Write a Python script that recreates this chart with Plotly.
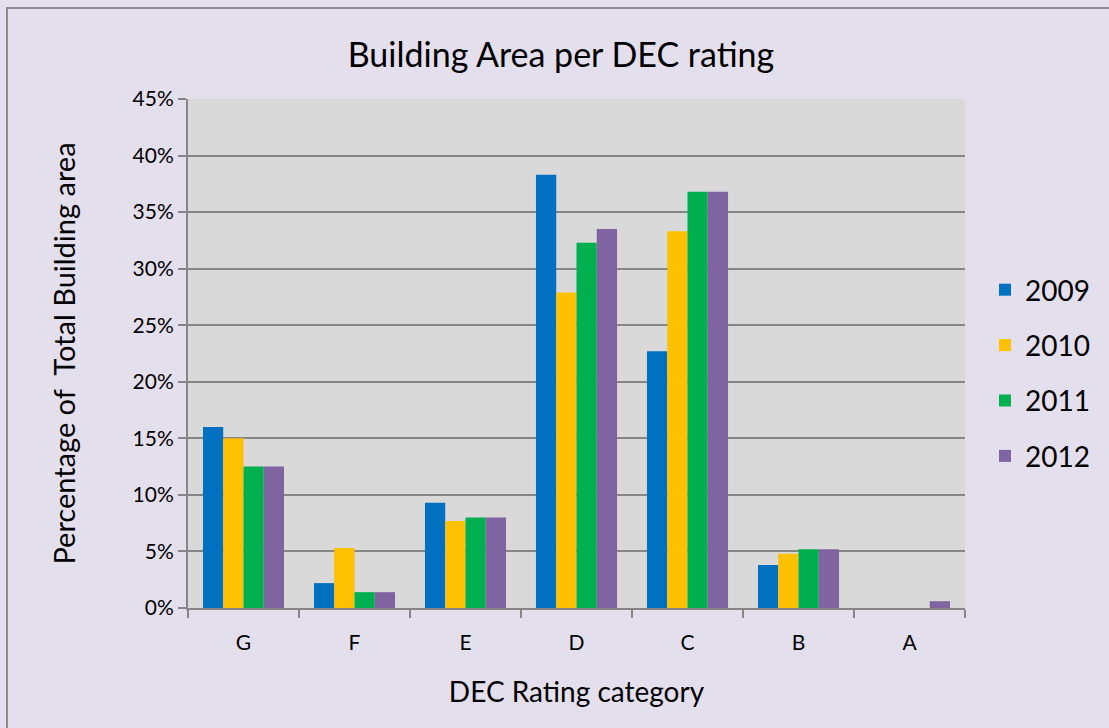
import plotly.graph_objects as go

categories = ["G", "F", "E", "D", "C", "B", "A"]
years = ["2009", "2010", "2011", "2012"]
v2009 = [16.0, 2.2, 9.3, 38.3, 22.7, 3.8, 0.0]
v2010 = [15.0, 5.3, 7.7, 27.9, 33.3, 4.8, 0.0]
v2011 = [12.5, 1.4, 8.0, 32.3, 36.8, 5.2, 0.0]
v2012 = [12.5, 1.4, 8.0, 33.5, 36.8, 5.2, 0.6]
series = [v2009, v2010, v2011, v2012]
colors = ["#0070C0", "#FFC000", "#00B050", "#8064A2"]

fig = go.Figure()
for name, vals, c in zip(years, series, colors):
    fig.add_trace(go.Bar(
        x=categories, y=[v / 100 for v in vals], name=name, legendgroup=name,
        marker=dict(color=c, line=dict(width=0)),
    ))

L, R, T, B = 188, 144, 99, 120
W, H = 1109, 728
pw, ph = W - L - R, H - T - B

fig.update_layout(
    width=W, height=H,
    margin=dict(l=L, r=R, t=T, b=B),
    paper_bgcolor="#E4DFEC",
    plot_bgcolor="#D9D9D9",
    barmode="group", bargap=0.27, bargroupgap=0,
    font=dict(family="Lato, 'Open Sans', sans-serif", color="#000000"),
    title=dict(text="Building Area per DEC rating", x=561 / W, xref="container",
               xanchor="center", y=1 - 55 / H, yanchor="middle",
               font=dict(size=34)),
    legend=dict(x=(985 - L) / pw, y=(608 - 373) / ph, xanchor="left", yanchor="middle",
                font=dict(size=28), itemwidth=30, tracegroupgap=16,
                bgcolor="rgba(0,0,0,0)"),
    xaxis=dict(
        title=dict(text="DEC Rating category", font=dict(size=28), standoff=29),
        tickfont=dict(size=21), showline=True, linecolor="#868686", linewidth=2,
        ticks="outside", tickcolor="#868686", ticklen=8, tickwidth=2,
        tickson="boundaries", showgrid=False, mirror=False, ticklabelstandoff=15,
    ),
    yaxis=dict(
        title=dict(text="Percentage of  Total Building area", font=dict(size=29), standoff=48),
        tickfont=dict(size=21), range=[0, 0.45], dtick=0.05, tickformat=".0%",
        showline=True, linecolor="#868686", linewidth=2,
        ticks="outside", tickcolor="#868686", ticklen=8, tickwidth=2,
        gridcolor="#868686", gridwidth=2, zeroline=False,
    ),
    shapes=[dict(
        type="rect", xref="paper", yref="paper",
        x0=(7 - L) / pw, x1=(W + 20 - L) / pw,
        y0=-(H + 20 - T - ph) / ph, y1=1 + (T - 8) / ph,
        line=dict(color="#8C8C8C", width=2), fillcolor="rgba(0,0,0,0)", layer="below",
    )],
)

fig.write_html("out.html", config={"displayModeBar": False},
               post_script="document.body.style.margin='0';document.body.style.overflow='hidden';")
